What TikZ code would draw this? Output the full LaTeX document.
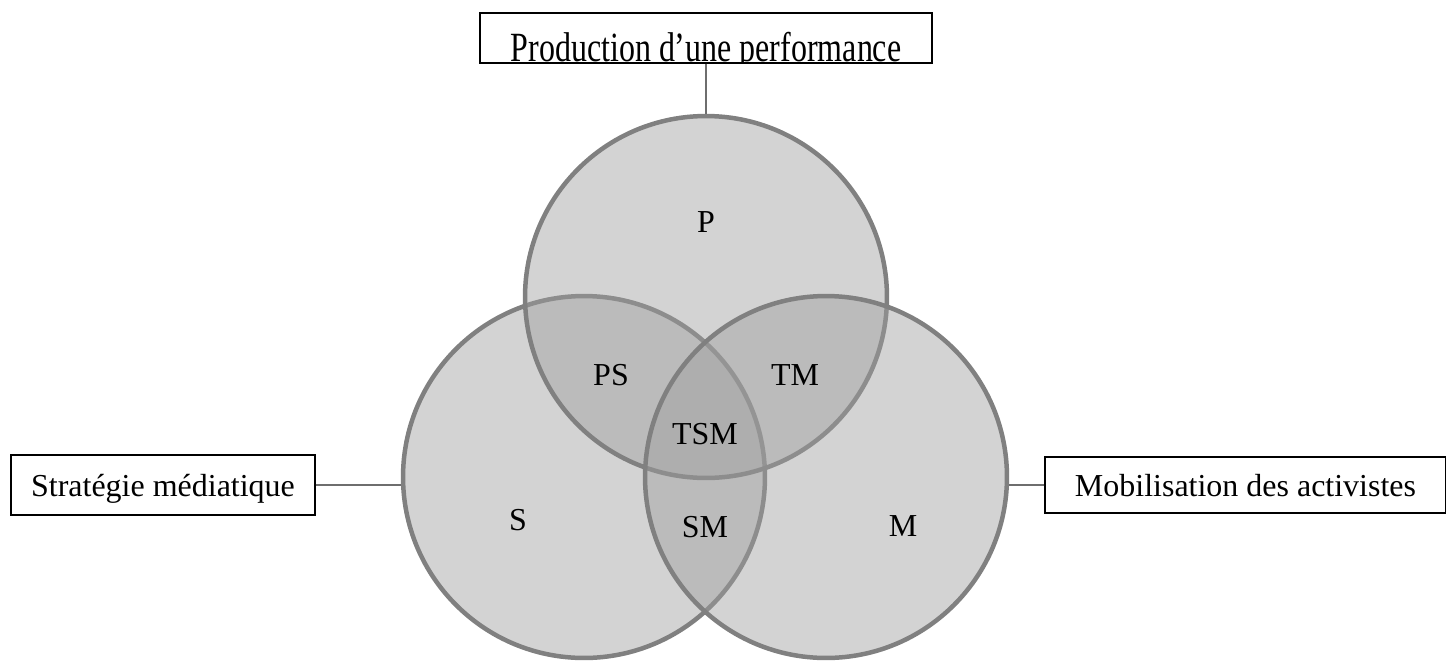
\documentclass[tikz,border=0pt]{standalone}
\usepackage{fontspec}
\setmainfont{Liberation Serif}
\definecolor{vennfill}{RGB}{158,158,158}
\definecolor{vennline}{RGB}{128,128,128}
\definecolor{linkgray}{RGB}{110,110,110}

\begin{document}
\begin{tikzpicture}[
    x=0.02cm, y=-0.02cm,
    every node/.style={font=\fontsize{18.2}{22}\selectfont, inner sep=0pt},
    venn/.style={circle, draw=vennline, line width=0.09cm, fill=vennfill,
      fill opacity=0.455, minimum size=7.24cm},
    namebox/.style={rectangle, draw=black, line width=0.7pt, fill=white,
      text height=0.46cm, text depth=0pt},
    link/.style={draw=linkgray, line width=0.04cm}
  ]
  \useasboundingbox (0,0) rectangle (1446,663);
  % the three sets
  \node (S) [venn] at (584,477) {};
  \node (P) [venn] at (706,297) {};
  \node (M) [venn] at (826,477) {};
  % zone labels
  \node (P_lbl) at (706,222) {P};
  \node (PS_lbl) at (611,375) {PS};
  \node (TM_lbl) at (795,375) {TM};
  \node (TSM_lbl) at (705,434) {TSM};
  \node (S_lbl) at (518,520) {S};
  \node (SM_lbl) at (705,527) {SM};
  \node (M_lbl) at (903,526) {M};
  % name boxes
  \node (perf) [namebox, minimum width=9.04cm, minimum height=1cm,
    path picture={\node [anchor=base, yscale=1.3]
      at ([yshift=0.03cm]path picture bounding box.south)
      {Production d’une performance};}] at (706,38) {};
  \node (strat) [namebox, minimum width=6.08cm, minimum height=1.2cm]
    at (163,485) {Stratégie médiatique};
  \node (mob) [namebox, minimum width=8.02cm, minimum height=1.12cm]
    at (1245.5,485) {Mobilisation des activistes};
  % links
  \draw [link] (perf.south) -- (P.north);
  \draw [link] (strat.east) -- (strat.east -| S.west);
  \draw [link] (mob.west) -- (mob.west -| M.east);
\end{tikzpicture}
\end{document}
